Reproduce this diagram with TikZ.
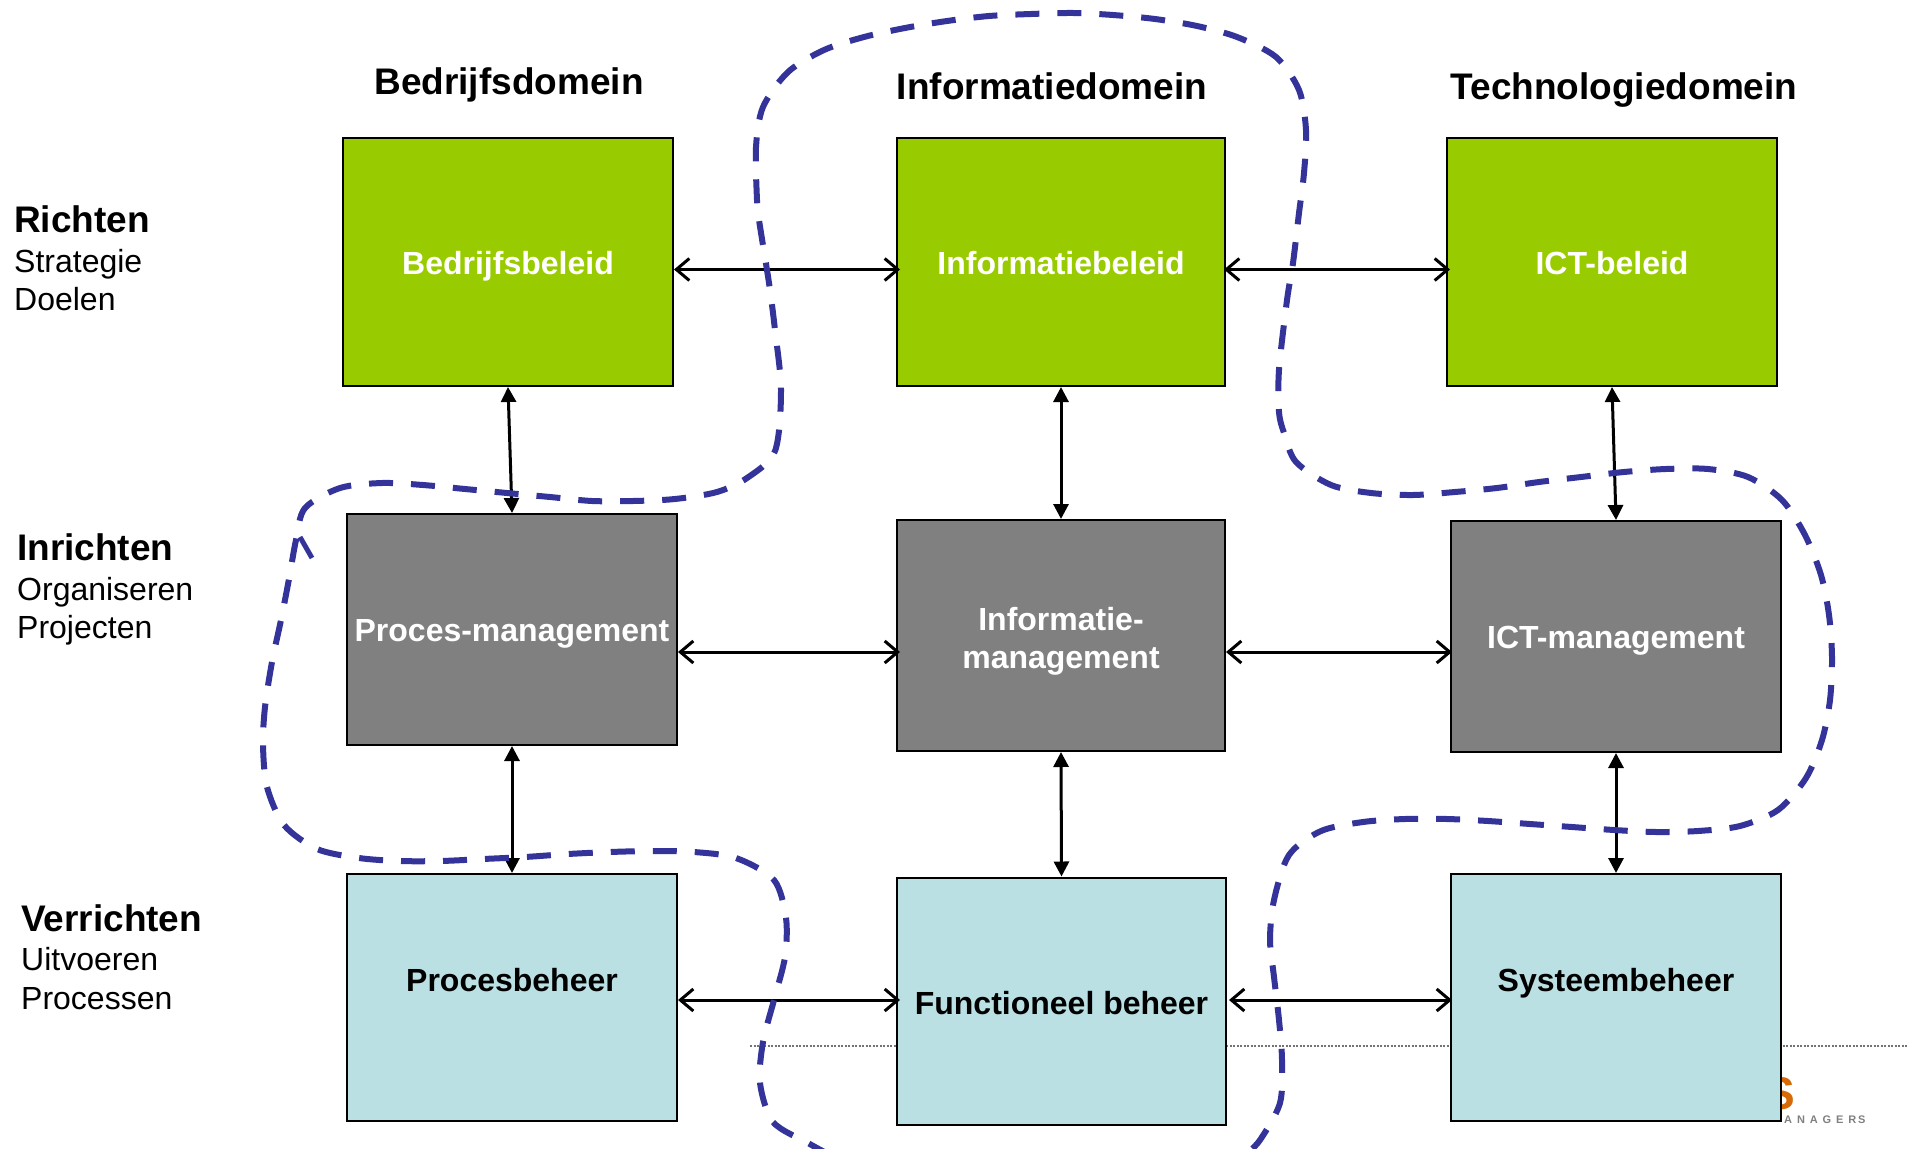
\documentclass[tikz,border=0pt]{standalone}
\usepackage{fontspec}
\setmainfont{Liberation Sans}
\usetikzlibrary{arrows.meta}
\definecolor{boxgreen}{HTML}{99CC00}
\definecolor{boxgray}{HTML}{808080}
\definecolor{boxblue}{HTML}{BAE0E3}
\definecolor{loopblue}{HTML}{333399}
\definecolor{logoorange}{HTML}{D56A06}
\newcommand{\boxstrut}{\rule[-8pt]{0pt}{40pt}}
\tikzset{
	boxtext/.style={inner sep=0pt, align=center, font=\fontsize{32}{38}\selectfont\bfseries, execute at begin node=\boxstrut, execute at end node=\boxstrut},
	domainbox/.style={boxtext, draw=black, line width=2pt, minimum width=330pt},
	richtbox/.style={domainbox, fill=boxgreen, text=white, minimum height=248pt},
	inrichtbox/.style={domainbox, fill=boxgray, text=white, minimum height=231pt},
	verrichtbox/.style={domainbox, fill=boxblue, text=black, minimum height=247pt},
	headtext/.style={anchor=base, inner sep=0pt, font=\fontsize{37}{40}\selectfont\bfseries},
	rowtitle/.style={anchor=base west, inner sep=0pt, font=\fontsize{37}{40}\selectfont\bfseries},
	rowtext/.style={anchor=base west, inner sep=0pt, font=\fontsize{32}{34}\selectfont},
	hlink/.style={line width=3pt, shorten >=-2pt, {Straight Barb[length=13pt,width=22pt]}-{Straight Barb[length=13pt,width=22pt]}},
	vlink/.style={line width=3pt, {Triangle[length=15pt,width=15pt]}-{Triangle[length=15pt,width=15pt]}},
	loopline/.style={loopblue, line width=6pt, dash pattern=on 24pt off 18pt}
}
\begin{document}
\begin{tikzpicture}[x=1pt,y=-1pt]
	\useasboundingbox (0,0) rectangle (1913,1148);
	% logo and dotted rule stay behind the boxes
	\coordinate (ruleleft) at (750,1046);
	\coordinate (ruleright) at (1908,1046);
	\draw [black!55, line width=2.5pt, dash pattern=on 2pt off 1.5pt] (ruleleft) -- (ruleright);
	\node [logoorange, inner sep=0pt, anchor=base east, font=\fontsize{46}{46}\selectfont\bfseries] (logomark) at (1795,1109) {S};
	\node [gray, inner sep=0pt, anchor=base west, font=\fontsize{11}{11}\selectfont\bfseries] (logotext) at (1784,1123) {A \,N \,A \,G \,E \,R\,S};

	\node [headtext] (bedrijfsdomein) at (509,94) {Bedrijfsdomein};
	\node [headtext] (informatiedomein) at (1052,99) {Informatiedomein};
	\node [headtext] (technologiedomein) at (1624,99) {Technologiedomein};

	\node [rowtitle] (richten) at (14,232) {Richten};
	\node [rowtext] (strategie) at (14,272) {Strategie};
	\node [rowtext] (doelen) at (14,310) {Doelen};
	\node [rowtitle] (inrichten) at (17,560) {Inrichten};
	\node [rowtext] (organiseren) at (17,600) {Organiseren};
	\node [rowtext] (projecten) at (17,638) {Projecten};
	\node [rowtitle] (verrichten) at (21,931) {Verrichten};
	\node [rowtext] (uitvoeren) at (21,970) {Uitvoeren};
	\node [rowtext] (processen) at (21,1009) {Processen};

	\node [richtbox] (bedrijfsbeleid) at (508,262) {Bedrijfsbeleid};
	\node [richtbox, minimum width=328pt] (informatiebeleid) at (1061,262) {Informatiebeleid};
	\node [richtbox] (ictbeleid) at (1612,262) {ICT-beleid};
	\node [inrichtbox] (procesmanagement) at (512,629.5) {Proces-management};
	\node [inrichtbox, minimum width=328pt] (informatiemanagement) at (1061,635.5) {};
	\node [inrichtbox] (ictmanagement) at (1616,636.5) {ICT-management};
	\node [verrichtbox] (procesbeheer) at (512,997.5) {};
	\node [verrichtbox, minimum width=329pt] (functioneelbeheer) at (1061.5,1001) {};
	\node [verrichtbox] (systeembeheer) at (1616,997.5) {};
	\node [boxtext, text=white] (informatietext) at (1061,641.5) {Informatie-\\management};
	\node [boxtext] (procesbeheertext) at (512,979) {Procesbeheer};
	\node [boxtext] (functioneeltext) at (1061.5,1002) {Functioneel beheer};
	\node [boxtext] (systeemtext) at (1616,979) {Systeembeheer};

	\coordinate (rowone) at (0,269.5);
	\coordinate (rowtwo) at (0,652);
	\coordinate (rowthree) at (0,1000);
	\draw [hlink, shorten >=-4pt] (bedrijfsbeleid.east |- rowone) -- (informatiebeleid.west |- rowone);
	\draw [hlink, shorten <=-2pt, shorten >=-4pt] (informatiebeleid.east |- rowone) -- (ictbeleid.west |- rowone);
	\draw [hlink, shorten >=-4pt] (procesmanagement.east |- rowtwo) -- (informatiemanagement.west |- rowtwo);
	\draw [hlink] (informatiemanagement.east |- rowtwo) -- (ictmanagement.west |- rowtwo);
	\draw [hlink, shorten >=-4pt] (procesbeheer.east |- rowthree) -- (functioneelbeheer.west |- rowthree);
	\draw [hlink, shorten <=2pt] (functioneelbeheer.east |- rowthree) -- (systeembeheer.west |- rowthree);
	\draw [vlink] (bedrijfsbeleid.south) -- (procesmanagement.north);
	\draw [vlink] (informatiebeleid.south) -- (informatiemanagement.north);
	\draw [vlink] (ictbeleid.south) -- (ictmanagement.north);
	\draw [vlink] (procesmanagement.south) -- (procesbeheer.north);
	\draw [vlink] (informatiemanagement.south) -- (functioneelbeheer.north);
	\draw [vlink] (ictmanagement.south) -- (systeembeheer.north);

	\draw [loopline] plot [smooth] coordinates {(830,1155)(808,1143)(773,1122)(760,1083)(763,1042)(774,1000)(785,957)(786,918)(774,880)(736,858)(694,852)(652,851)(610,852)(568,854)(525,857)(483,859)(441,861)(399,861)(359,858)(317,849)(284,825)(267,787)(263,745)(265,707)(272,662)(281,620)(289,579)(296,540)(305,508)(340,488)(382,483)(423,485)(465,489)(507,493)(550,497)(592,501)(633,501)(675,499)(717,492)(747,478)(775,451)(781,390)(775,330)(769,283)(759,220)(757,200)(756,147)(763,107)(788,72)(824,50)(864,37)(905,28)(947,21)(989,16)(1031,14)(1073,13)(1113,15)(1155,19)(1197,26)(1237,37)(1276,57)(1299,90)(1306,130)(1304,173)(1299,213)(1293,263)(1287,300)(1279,370)(1279,412)(1284,433)(1296,462)(1331,485)(1371,493)(1413,495)(1455,492)(1497,488)(1539,482)(1581,477)(1624,472)(1666,469)(1708,469)(1748,477)(1782,500)(1805,535)(1821,575)(1829,615)(1832,657)(1830,700)(1822,740)(1806,778)(1778,810)(1740,826)(1698,831)(1656,832)(1614,830)(1572,827)(1530,824)(1488,821)(1447,819)(1405,819)(1363,822)(1321,831)(1289,855)(1274,900)(1270,940)(1274,977)(1279,1020)(1282,1060)(1280,1103)(1260,1140)(1245,1155)};
	\draw [loopblue, line width=5pt] (300,537) -- (312,558);
\end{tikzpicture}
\end{document}
